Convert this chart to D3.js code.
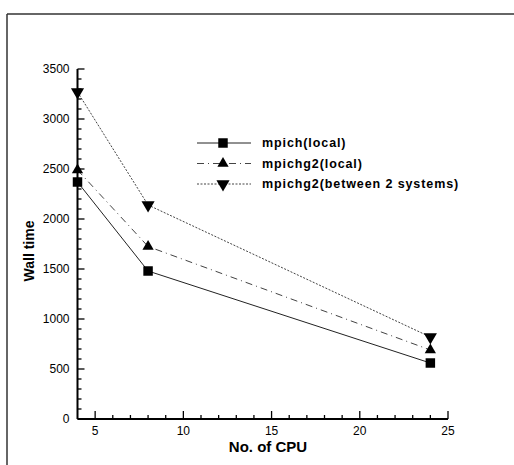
<!DOCTYPE html>
<html>
<head>
<meta charset="utf-8">
<script src="https://cdn.jsdelivr.net/npm/d3@7"></script>
<style>
  html, body { margin: 0; padding: 0; background: #fff; }
  svg { display: block; font-family: "Liberation Sans", Arial, sans-serif; }
</style>
</head>
<body>
<div id="chart"></div>
<script>
// Data
const cpus = [4, 8, 24]
const seriesNames = ['mpich(local)', 'mpichg2(local)', 'mpichg2(between 2 systems)']
const mpichLocal = [2370, 1480, 560]
const mpichg2Local = [2490, 1725, 690]
const mpichg2Between = [3270, 2140, 820]
const yTicks = [0, 500, 1000, 1500, 2000, 2500, 3000, 3500]
const xTicks = [5, 10, 15, 20, 25]

const W = 514, H = 465
const svg = d3.select('#chart').append('svg')
  .attr('width', W).attr('height', H)

// Scanned page frame (top and left edges)
svg.append('line').attr('x1', 7).attr('x2', W).attr('y1', 14).attr('y2', 14)
  .attr('stroke', '#333').attr('stroke-width', 1.5)
svg.append('line').attr('x1', 7).attr('x2', 7).attr('y1', 14).attr('y2', H)
  .attr('stroke', '#333').attr('stroke-width', 1.5)

const x = d3.scaleLinear().domain([4, 25]).range([77.5, 448])
const y = d3.scaleLinear().domain([0, 3500]).range([419, 69])

const g = svg.append('g')

// Y axis: minor ticks every 100, major every 500, pointing inward
const yMinor = d3.range(0, 3501, 100)
g.append('g').selectAll('line').data(yMinor).join('line')
  .attr('x1', x(4)).attr('x2', d => x(4) + (d % 500 === 0 ? 7 : 4))
  .attr('y1', d => y(d)).attr('y2', d => y(d))
  .attr('stroke', '#000').attr('stroke-width', 1.3)
g.append('line').attr('x1', x(4)).attr('x2', x(4)).attr('y1', y(0)).attr('y2', y(3500))
  .attr('stroke', '#000').attr('stroke-width', 2)
g.append('g').selectAll('text').data(yTicks).join('text')
  .attr('x', x(4) - 8).attr('y', d => y(d)).attr('dy', '0.35em')
  .attr('text-anchor', 'end').attr('font-size', 12).text(d => d)

// X axis: minor every 1, major every 5, pointing up
const xMinor = d3.range(5, 26, 1)
g.append('g').selectAll('line').data(xMinor).join('line')
  .attr('x1', d => x(d)).attr('x2', d => x(d))
  .attr('y1', y(0)).attr('y2', d => y(0) - (d % 5 === 0 ? 8 : 4))
  .attr('stroke', '#000').attr('stroke-width', 1.3)
g.append('line').attr('x1', x(4)).attr('x2', x(25)).attr('y1', y(0)).attr('y2', y(0))
  .attr('stroke', '#000').attr('stroke-width', 2)
g.append('g').selectAll('text').data(xTicks).join('text')
  .attr('x', d => x(d)).attr('y', y(0) + 16)
  .attr('text-anchor', 'middle').attr('font-size', 12).text(d => d)

// Axis titles
svg.append('text').attr('x', 268).attr('y', 452)
  .attr('text-anchor', 'middle').attr('font-size', 15).attr('font-weight', 'bold')
  .text('No. of CPU')
svg.append('text').attr('transform', 'translate(34,251) rotate(-90)')
  .attr('text-anchor', 'middle').attr('font-size', 14).attr('font-weight', 'bold')
  .text('Wall time')

// Series
const series = [
  { name: seriesNames[0], values: mpichLocal, dash: null, color: '#222', symbol: d3.symbolSquare, size: 90, rot: 0 },
  { name: seriesNames[1], values: mpichg2Local, dash: '7,4,1,4', color: '#444', symbol: d3.symbolTriangle, size: 55, rot: 0 },
  { name: seriesNames[2], values: mpichg2Between, dash: '2,1.5', color: '#444', symbol: d3.symbolTriangle, size: 75, rot: 180 }
]

const line = d3.line().x(d => x(d[0])).y(d => y(d[1]))

series.forEach(s => {
  const pts = cpus.map((c, i) => [c, s.values[i]])
  g.append('path').datum(pts)
    .attr('d', line).attr('fill', 'none')
    .attr('stroke', s.color).attr('stroke-width', 1)
    .attr('stroke-dasharray', s.dash)
  g.append('g').selectAll('path').data(pts).join('path')
    .attr('d', d3.symbol(s.symbol, s.size))
    .attr('transform', d => `translate(${x(d[0])},${y(d[1])}) rotate(${s.rot})`)
    .attr('fill', '#000')
})

// Legend
const legend = svg.append('g').attr('transform', 'translate(197,143)')
series.forEach((s, i) => {
  const row = legend.append('g').attr('transform', `translate(0,${i * 20.5})`)
  row.append('line').attr('x1', 0).attr('x2', 54).attr('y1', 0).attr('y2', 0)
    .attr('stroke', s.color).attr('stroke-width', 1).attr('stroke-dasharray', s.dash)
  row.append('path').attr('d', d3.symbol(s.symbol, s.size))
    .attr('transform', `translate(26,0) rotate(${s.rot})`).attr('fill', '#000')
  row.append('text').attr('x', 65).attr('y', 0).attr('dy', '0.35em')
    .attr('font-size', 12.5).attr('font-weight', 'bold')
    .attr('letter-spacing', 0.9).text(s.name)
})
</script>
</body>
</html>
